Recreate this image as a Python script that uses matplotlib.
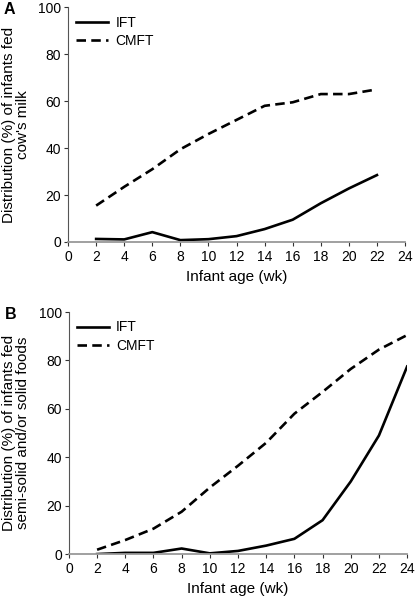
import matplotlib.pyplot as plt

plt.rcParams['font.family'] = ['Liberation Sans', 'DejaVu Sans']

weeks_a = [2, 4, 6, 8, 10, 12, 14, 16, 18, 20, 22]
ift_milk = [1.3, 1.1, 4.2, 0.8, 1.2, 2.5, 5.5, 9.5, 16.5, 22.8, 28.5]
cmft_milk = [15.5, 23.5, 31, 39.5, 46, 52, 58, 59.5, 63, 63, 65]

weeks_b = [2, 4, 6, 8, 10, 12, 14, 16, 18, 20, 22, 24]
ift_solid = [0, 0.5, 0.5, 2.3, 0.3, 1.3, 3.5, 6.3, 14, 30, 49, 77.5]
cmft_solid = [1.8, 5.8, 10.5, 17.5, 27.5, 36.5, 46, 58, 67, 76.5, 84.5, 90.5]

xticks = list(range(0, 25, 2))
yticks = [0, 20, 40, 60, 80, 100]

fig = plt.figure(figsize=(4.15, 5.99), dpi=100)
ax_a = fig.add_axes([0.164, 0.596, 0.812, 0.392])
ax_b = fig.add_axes([0.166, 0.075, 0.815, 0.404])


def style(ax, x, ift, cmft, ylabel, letter):
    ax.plot(x, ift, color='black', lw=1.9, label='IFT')
    ax.plot(x, cmft, color='black', lw=1.9, ls=(0, (3.6, 2)), label='CMFT')
    ax.set_xlim(0, 24)
    ax.set_ylim(0, 100)
    ax.set_xticks(xticks)
    ax.set_yticks(yticks)
    ax.tick_params(labelsize=10, color='#333333', length=3, width=0.8)
    ax.tick_params(axis='x', pad=3)
    ax.tick_params(axis='y', pad=2)
    for s in ['top', 'right']:
        ax.spines[s].set_visible(False)
    ax.spines['left'].set_color('#555555')
    ax.spines['left'].set_linewidth(0.8)
    ax.spines['bottom'].set_color('#999999')
    ax.spines['bottom'].set_linewidth(1.3)
    ax.set_xlabel('Infant age (wk)', fontsize=11, labelpad=4)
    ax.set_ylabel(ylabel, fontsize=11, labelpad=6, linespacing=1.0)
    ax.legend(loc='upper left', frameon=False, fontsize=10, handlelength=2.3,
              handletextpad=0.5, borderaxespad=0.2, labelspacing=0.3,
              bbox_to_anchor=(0.0, 1.0))
    ax.text(-0.19, 0.99, letter, transform=ax.transAxes, fontsize=11.5,
            fontweight='bold', ha='left', va='center')


style(ax_a, weeks_a, ift_milk, cmft_milk,
      "Distribution (%) of infants fed\ncow's milk", 'A')
style(ax_b, weeks_b, ift_solid, cmft_solid,
      'Distribution (%) of infants fed\nsemi-solid and/or solid foods', 'B')

fig.savefig('out.png', dpi=100)
